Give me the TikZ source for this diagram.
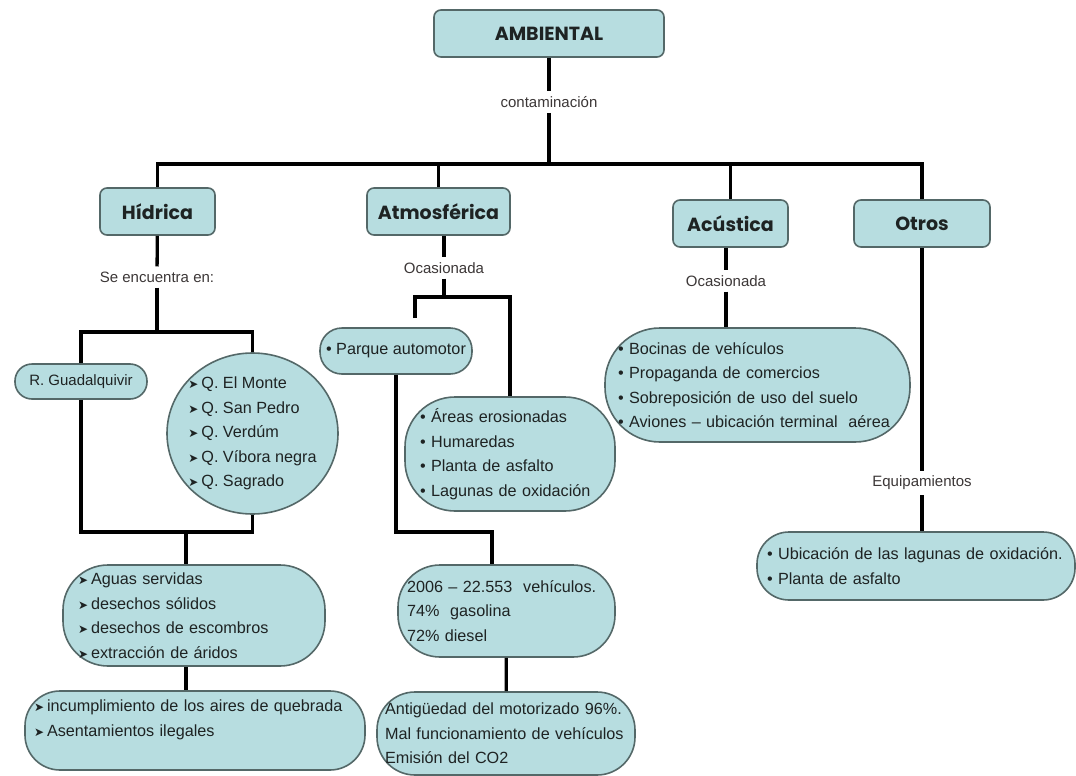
\documentclass[tikz,border=0pt]{standalone}
\usepackage{fontspec}
\setmainfont{Liberation Sans}
\newfontfamily\headfont{Poppins}
\newfontfamily\arrowfont{DejaVu Sans}
\usetikzlibrary{shapes.geometric}
\definecolor{boxfill}{RGB}{183,221,224}
\definecolor{boxline}{RGB}{84,104,104}
\definecolor{lbltext}{RGB}{60,55,55}
\definecolor{bodytext}{RGB}{30,35,35}
\newcommand{\arr}{{\arrowfont\fontsize{12}{12}\selectfont ➤}\hspace{3pt}}
\newcommand{\bul}{•\ }
\begin{document}
\begin{tikzpicture}[x=1pt,y=-1pt,
  conn/.style={line width=3.3pt, black},
  head/.style={draw=boxline, line width=1.6pt, fill=boxfill, rounded corners=7pt,
    font=\headfont\bfseries\fontsize{19}{22}\selectfont, inner sep=0pt, minimum height=47pt, text=bodytext},
  lbl/.style={font=\fontsize{15}{18}\selectfont, text=lbltext, inner xsep=2pt, inner ysep=5pt},
  lst/.style={draw=boxline, line width=1.6pt, fill=boxfill, align=left, text=bodytext,
    font=\fontsize{16.2}{24.5}\selectfont, inner ysep=0pt},
]
\fill[white] (0,0) rectangle (1076,776);
\useasboundingbox (0,0) rectangle (1076,776);

% headings
\node[head, minimum width=230pt] (amb) at (549,33.5) {AMBIENTAL};
\node[head, minimum width=115pt] (hid) at (157.5,211.5) {Hídrica};
\node[head, minimum width=143pt] (atm) at (438.5,211.5) {Atmosférica};
\node[head, minimum width=115pt] (acu) at (730.5,223.5) {Acústica};
\node[head, minimum width=136pt] (otr) at (922,223.5) {Otros};

% labels
\node[lbl] (lc) at (549,102) {contaminación};
\node[lbl] (lse) at (157,277) {Se encuentra en:};
\node[lbl] (loa) at (444,268) {Ocasionada};
\node[lbl] (loc) at (726,281) {Ocasionada};
\node[lbl] (leq) at (922,483) {Equipamientos};

% Hidrica boxes
\node[lst, align=center, inner xsep=0pt, minimum width=132pt, minimum height=35pt, rounded corners=17pt,
  font=\fontsize{15}{18}\selectfont] (rg) at (81,381.5) {R. Guadalquivir};
\node[lst, shape=ellipse, inner sep=-15pt, minimum width=171pt, minimum height=161pt] (qell) at (252.5,433.5)
  {\arr Q. El Monte\\ \arr Q. San Pedro\\ \arr Q. Verdúm\\ \arr Q. Víbora negra\\ \arr Q. Sagrado};
\node[lst, inner xsep=15pt, text width=232pt, minimum height=101pt, rounded corners=45pt] (agu) at (194,615.5)
  {\arr Aguas servidas\\ \arr desechos sólidos\\ \arr desechos de escombros\\ \arr extracción de áridos};
\node[lst, inner xsep=9pt, text width=322pt, minimum height=79pt, rounded corners=35pt] (inc) at (195,730.5)
  {\arr incumplimiento de los aires de quebrada\\ \arr Asentamientos ilegales\\ \mbox{}};

% Atmosferica boxes
\node[lst, align=center, inner xsep=0pt, minimum width=152pt, minimum height=46pt, rounded corners=22pt] (parq) at (396,351)
  {\bul Parque automotor};
\node[lst, inner xsep=15pt, text width=180pt, minimum height=114pt, rounded corners=50pt] (are) at (510,454)
  {\bul Áreas erosionadas\\ \bul Humaredas\\ \bul Planta de asfalto\\ \bul Lagunas de oxidación};
\node[lst, inner xsep=9pt, text width=199pt, minimum height=92pt, rounded corners=42pt] (veh) at (506.5,611)
  {2006 – 22.553~~vehículos.\\ 74\%~~gasolina\\ 72\% diesel};
\node[lst, inner xsep=8pt, text width=242pt, minimum height=83pt, rounded corners=38pt] (ant) at (506,733.5)
  {Antigüedad del motorizado 96\%.\\ Mal funcionamiento de vehículos\\ Emisión del CO2};

% Acustica and Otros boxes
\node[lst, inner xsep=13pt, text width=279pt, minimum height=114pt, rounded corners=55pt] (acul) at (757.5,385)
  {\bul Bocinas de vehículos\\ \bul Propaganda de comercios\\ \bul Sobreposición de uso del suelo\\ \bul Aviones – ubicación terminal~~aérea};
\node[lst, inner xsep=10pt, text width=298pt, minimum height=68pt, rounded corners=32pt] (ubi) at (916,566)
  {\bul Ubicación de las lagunas de oxidación.\\ \bul Planta de asfalto};

% connectors: top
\coordinate (busM) at (549,164);
\draw[conn] (amb) -- (lc);
\draw[conn] (lc) -- (busM);
\draw[conn] (hid.north) |- (busM) -| (otr.north);
\draw[conn] (atm.north) -- (atm.north |- busM);
\draw[conn] (acu.north) -- (acu.north |- busM);

% Hidrica
\coordinate (hbus) at (157,332);
\coordinate (hbus2) at (186,532);
\draw[conn] (hid) -- (lse);
\draw[conn] (lse) -- (hbus);
\draw[conn] (rg.north) |- (hbus) -| (qell.north);
\draw[conn] (rg.south) |- (qell.south |- hbus2) -- (qell.south);
\draw[conn] (hbus2) -- (hbus2 |- agu.north);
\draw[conn] (agu.south -| hbus2) -- (inc.north -| hbus2);

% Atmosferica
\coordinate (abus) at (444,297);
\coordinate (afree) at (415,318);
\coordinate (pbend) at (492,532);
\draw[conn] (atm.south -| loa) -- (loa);
\draw[conn] (loa) -- (abus);
\draw[conn] (afree) |- (abus) -| (are.north);
\draw[conn] (parq.south) |- (pbend) -- (pbend |- veh.north);
\draw[conn] (veh) -- (ant);

% Acustica
\draw[conn] (acu.south -| loc) -- (loc);
\draw[conn] (loc) -- (loc |- acul.north);

% Otros
\draw[conn] (otr) -- (leq);
\draw[conn] (leq) -- (leq |- ubi.north);
\end{tikzpicture}
\end{document}
